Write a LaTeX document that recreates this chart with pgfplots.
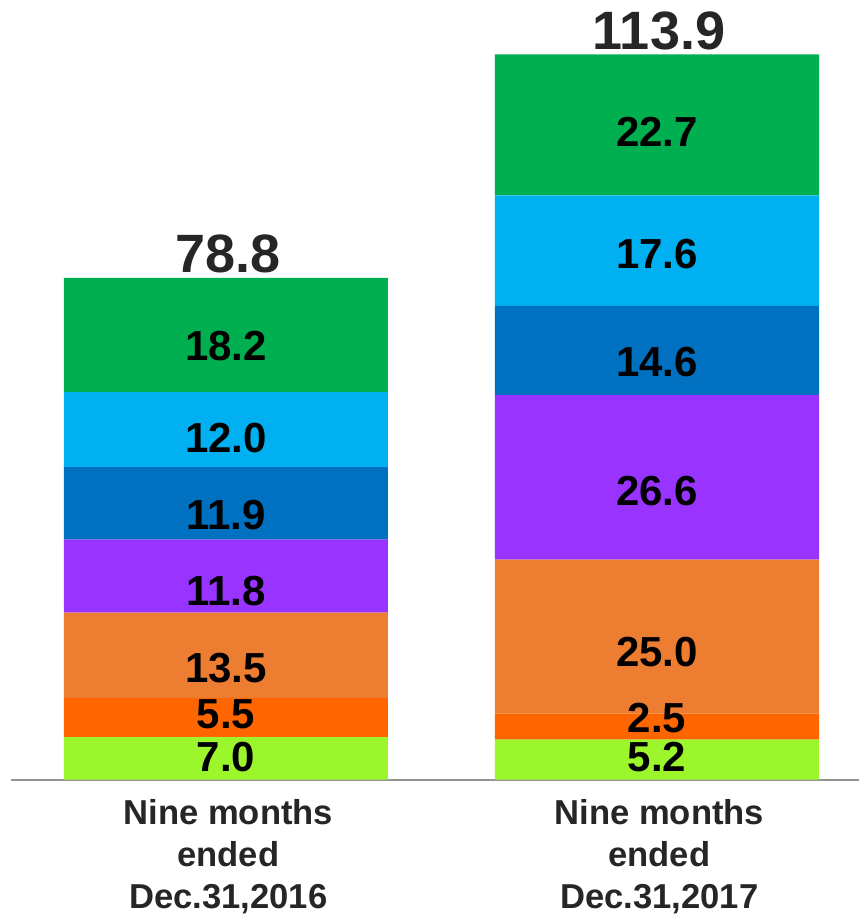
\documentclass[border=0pt]{standalone}
\usepackage{pgfplots}
\pgfplotsset{compat=1.18}
\usepackage{fontspec}
\setmainfont{Liberation Sans}
\definecolor{cLime}{HTML}{9BF72B}
\definecolor{cRed}{HTML}{FF6600}
\definecolor{cOrange}{HTML}{ED7D31}
\definecolor{cPurple}{HTML}{9933FF}
\definecolor{cDBlue}{HTML}{0070C0}
\definecolor{cLBlue}{HTML}{00B0F0}
\definecolor{cGreen}{HTML}{00B050}
\definecolor{cText}{HTML}{262626}
\begin{document}
\begin{tikzpicture}
\pgfplotsset{
  common/.style={
    scale only axis, width=424pt, height=362.5pt,
    xmin=-0.4988, xmax=1.4687, ymin=0, ymax=113.9,
    clip=false, at={(0,0)}, anchor=south west,
  }
}
\begin{axis}[common,
  ybar stacked, bar width=162pt,
  axis x line*=bottom, axis y line=none,
  x axis line style={color=black!42, line width=1pt, -},
  xtick={0,1}, major tick length=0pt,
  xticklabels={{Nine months\\ended\\Dec.31,2016},{Nine months\\ended\\Dec.31,2017}},
  xticklabel style={align=center, text=cText, inner sep=0pt, yshift=-9.8pt, xshift=1.2pt,
    font=\fontsize{17.3}{20.9}\selectfont\bfseries},
  every axis plot/.append style={draw=none},
]
\addplot[fill=cLime]   coordinates {(0,6.65) (1,6.25)};
\addplot[fill=cRed]    coordinates {(0,6.17) (1,4.09)};
\addplot[fill=cOrange] coordinates {(0,13.41) (1,24.21)};
\addplot[fill=cPurple] coordinates {(0,11.47) (1,25.83)};
\addplot[fill=cDBlue]  coordinates {(0,11.36) (1,14.04)};
\addplot[fill=cLBlue]  coordinates {(0,11.79) (1,17.35)};
\addplot[fill=cGreen]  coordinates {(0,17.96) (1,22.13)};
\end{axis}
\begin{axis}[common, hide axis]
\addplot[only marks, mark=none, nodes near coords, point meta=explicit symbolic,
  nodes near coords style={anchor=center, text=black,
    font=\fontsize{21}{25}\selectfont\bfseries}]
  coordinates {
  (0,68.04) [18.2] (0,53.66) [12.0] (0,41.52) [11.9] (0,29.64) [11.8]
  (0,17.54) [13.5] (0,10.26) [5.5] (0,3.60) [7.0]
  (1,101.71) [22.7] (1,82.59) [17.6] (1,65.62) [14.6] (1,45.26) [26.6]
  (1,19.98) [25.0] (1,9.63) [2.5] (1,3.46) [5.2]
  };
\addplot[only marks, mark=none, nodes near coords, point meta=explicit symbolic,
  nodes near coords style={anchor=south, inner sep=0pt, yshift=2pt, xshift=1pt, text=cText,
    font=\fontsize{27}{32}\selectfont\bfseries}]
  coordinates {(0,78.8) [78.8] (1,113.9) [113.9]};
\end{axis}
\pgfresetboundingbox
\useasboundingbox (-5.5pt,-67.25pt) rectangle (424pt,389.75pt);
\end{tikzpicture}
\end{document}
